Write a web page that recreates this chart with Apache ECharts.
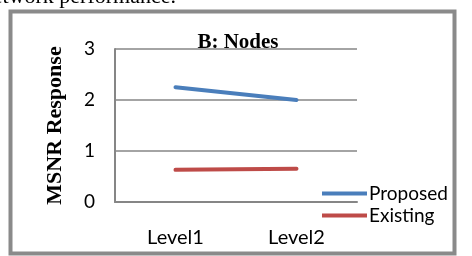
<!DOCTYPE html>
<html><head><meta charset="utf-8">
<script src="https://cdn.jsdelivr.net/npm/echarts@6/dist/echarts.min.js"></script>
<style>html,body{margin:0;padding:0;background:#fff}#c{width:472px;height:256px}</style>
</head><body><div id="c"></div>
<script>
var categories = ['Level1', 'Level2'];
var proposed = [2.25, 2.0];
var existing = [0.63, 0.65];
var yTicks = [0, 1, 2, 3];

var chart = echarts.init(document.getElementById('c'), null, {renderer: 'canvas'});
chart.setOption({
  animation: false,
  backgroundColor: '#fff',
  title: {
    text: 'B: Nodes', left: 233, top: 27, textAlign: 'center',
    textStyle: {fontFamily: 'Liberation Serif', fontWeight: 'bold', fontSize: 21, color: '#000'}
  },
  graphic: [
    {type: 'rect', shape: {x: 10.5, y: 11.5, width: 444, height: 242}, style: {fill: 'none', stroke: '#8a8a8a', lineWidth: 4}, z: 10},
    {type: 'text', x: 176, y: -14, style: {text: 'network performance.', align: 'right', font: '22px "Liberation Serif"', fill: '#000'}}
  ],
  legend: {
    orient: 'vertical', left: 317, top: 179, itemGap: 3,
    itemWidth: 45, itemHeight: 4, icon: 'rect',
    textStyle: {fontFamily: 'Lato', fontSize: 19, color: '#000', padding: [0, 0, 0, -3]},
    data: ['Proposed', 'Existing']
  },
  grid: {left: 115, right: 115, top: 49, bottom: 54},
  xAxis: {
    type: 'category', data: categories, boundaryGap: true,
    axisLine: {lineStyle: {color: '#868686', width: 2}},
    axisTick: {show: false},
    axisLabel: {fontFamily: 'Lato', fontSize: 20, color: '#000', margin: 26}
  },
  yAxis: {
    type: 'value', min: 0, max: 3, interval: 1,
    name: 'MSNR Response', nameLocation: 'middle', nameGap: 49, nameRotate: 90,
    nameTextStyle: {fontFamily: 'Liberation Serif', fontWeight: 'bold', fontSize: 22, color: '#000'},
    axisLine: {show: true, lineStyle: {color: '#868686', width: 2}},
    axisTick: {show: false},
    splitLine: {lineStyle: {color: '#868686', width: 1.5}},
    axisLabel: {fontFamily: 'Lato', fontSize: 19, color: '#000', margin: 20,
      formatter: function (v) { return yTicks.indexOf(v) >= 0 ? String(v) : ''; }}
  },
  series: [
    {name: 'Proposed', type: 'line', data: proposed, symbol: 'none',
      lineStyle: {color: '#4a7ebb', width: 4, cap: 'round'}, itemStyle: {color: '#4a7ebb'}},
    {name: 'Existing', type: 'line', data: existing, symbol: 'none',
      lineStyle: {color: '#be4b48', width: 4, cap: 'round'}, itemStyle: {color: '#be4b48'}}
  ]
});
</script></body></html>
